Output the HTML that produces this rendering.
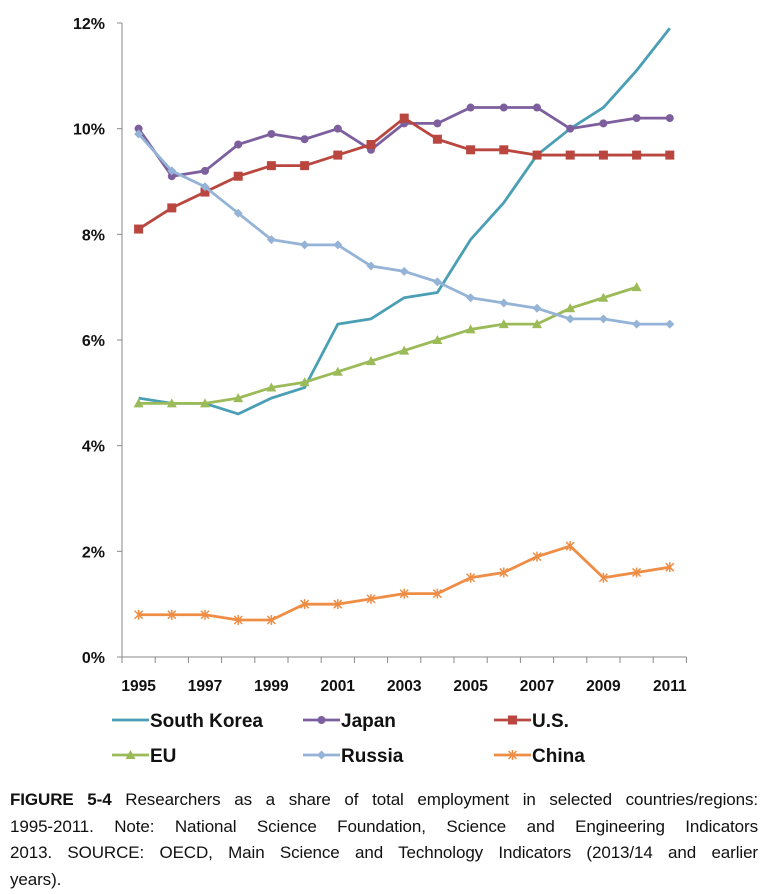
<!DOCTYPE html>
<html><head><meta charset="utf-8"><style>
body{margin:0;background:#fff;width:767px;height:894px;overflow:hidden;font-family:"Liberation Sans",sans-serif}
svg text{font-family:"Liberation Sans",sans-serif;font-weight:bold}
#caption{position:absolute;left:10px;top:787px;width:748px;font-size:17px;line-height:26.7px;color:#111;letter-spacing:-0.1px}
#caption .j{text-align:justify;text-align-last:justify;white-space:nowrap}
</style></head><body>
<svg id="chart" width="767" height="780" style="position:absolute;left:0;top:0"></svg>
<div id="caption">
<div class="j"><b>FIGURE 5-4</b> Researchers as a share of total employment in selected countries/regions:</div>
<div class="j">1995-2011. Note: National Science Foundation, Science and Engineering Indicators</div>
<div class="j">2013. SOURCE: OECD, Main Science and Technology Indicators (2013/14 and earlier</div>
<div>years).</div>
</div>
<script>
const years=[1995,1996,1997,1998,1999,2000,2001,2002,2003,2004,2005,2006,2007,2008,2009,2010,2011];
const yTicks=[0,2,4,6,8,10,12];
const southKorea=[4.9,4.8,4.8,4.6,4.9,5.1,6.3,6.4,6.8,6.9,7.9,8.6,9.5,10.0,10.4,11.1,11.9];
const japan=[10.0,9.1,9.2,9.7,9.9,9.8,10.0,9.6,10.1,10.1,10.4,10.4,10.4,10.0,10.1,10.2,10.2];
const us=[8.1,8.5,8.8,9.1,9.3,9.3,9.5,9.7,10.2,9.8,9.6,9.6,9.5,9.5,9.5,9.5,9.5];
const eu=[4.8,4.8,4.8,4.9,5.1,5.2,5.4,5.6,5.8,6.0,6.2,6.3,6.3,6.6,6.8,7.0,null];
const russia=[9.9,9.2,8.9,8.4,7.9,7.8,7.8,7.4,7.3,7.1,6.8,6.7,6.6,6.4,6.4,6.3,6.3];
const china=[0.8,0.8,0.8,0.7,0.7,1.0,1.0,1.1,1.2,1.2,1.5,1.6,1.9,2.1,1.5,1.6,1.7];
const NS="http://www.w3.org/2000/svg";
const svg=document.getElementById('chart');
const x0=122,step=33.2,y0=657,yTop=23,yMax=12;
function xS(i){return x0+step*(i+0.5);}
function yS(v){return y0-(y0-yTop)*v/yMax;}
function el(t,a,p){const e=document.createElementNS(NS,t);for(const k in a)e.setAttribute(k,a[k]);(p||svg).appendChild(e);return e;}
const ax=el('line',{x1:x0,y1:yTop,x2:x0,y2:y0,stroke:'#888','stroke-width':1});


const xa=el('line',{x1:x0,y1:y0,x2:x0+step*years.length,y2:y0,stroke:'#888','stroke-width':1});


yTicks.forEach(v=>{
  el('line',{x1:x0-5,y1:yS(v),x2:x0,y2:yS(v),stroke:'#888'});
  const t=el('text',{x:x0-17,y:yS(v)+6,'text-anchor':'end','font-size':16,fill:'#111'});
  t.textContent=v+'%';
  
  
});
for(let i=0;i<=years.length;i++)el('line',{x1:x0+step*i,y1:y0,x2:x0+step*i,y2:y0+6,stroke:'#888'});
years.forEach((yr,i)=>{if(i%2==0){
  const t=el('text',{x:xS(i),y:y0+34,'text-anchor':'middle','font-size':15.5,fill:'#111'});
  t.textContent=yr;
  
  
}});
function marker(type,x,y,c,g){
  if(type=='circle')el('circle',{cx:x,cy:y,r:4,fill:c},g);
  else if(type=='square')el('rect',{x:x-4.5,y:y-4.5,width:9,height:9,fill:c},g);
  else if(type=='tri')el('polygon',{points:`${x},${y-5} ${x-5},${y+4} ${x+5},${y+4}`,fill:c},g);
  else if(type=='diamond')el('polygon',{points:`${x},${y-4.5} ${x+4.5},${y} ${x},${y+4.5} ${x-4.5},${y}`,fill:c},g);
  else if(type=='star'){el('path',{d:`M${x-4} ${y-4}L${x+4} ${y+4}M${x+4} ${y-4}L${x-4} ${y+4}M${x} ${y-5}L${x} ${y+5}`,stroke:c,'stroke-width':1.5},g);}
}
const series=[
 {name:'South Korea',data:southKorea,c:'#4a9fb5',m:null,id:'south-korea'},
 {name:'Japan',data:japan,c:'#7d5f9e',m:'circle',id:'japan'},
 {name:'U.S.',data:us,c:'#b9473f',m:'square',id:'us'},
 {name:'EU',data:eu,c:'#9bbb59',m:'tri',id:'eu'},
 {name:'Russia',data:russia,c:'#95b3d7',m:'diamond',id:'russia'},
 {name:'China',data:china,c:'#ee8d45',m:'star',id:'china'}];
series.forEach(s=>{
  const g=el('g',{});
  
  
  let d='';s.data.forEach((v,i)=>{if(v!=null)d+=(d?'L':'M')+xS(i)+' '+yS(v);});
  el('path',{d:d,fill:'none',stroke:s.c,'stroke-width':2.8,'stroke-linejoin':'round'},g);
  if(s.m)s.data.forEach((v,i)=>{if(v!=null)marker(s.m,xS(i),yS(v),s.c,g);});
});
const legPos=[[112,720],[303,720],[494,720],[112,755],[303,755],[494,755]];
series.forEach((s,k)=>{
  const [lx,ly]=legPos[k];
  const g=el('g',{});
  
  
  el('line',{x1:lx,y1:ly,x2:lx+37,y2:ly,stroke:s.c,'stroke-width':2.8},g);
  if(s.m)marker(s.m,lx+18.5,ly,s.c,g);
  const t=el('text',{x:lx+38,y:ly+7,'font-size':19,fill:'#111'},g);
  t.textContent=s.name;
});
</script>
</body></html>
